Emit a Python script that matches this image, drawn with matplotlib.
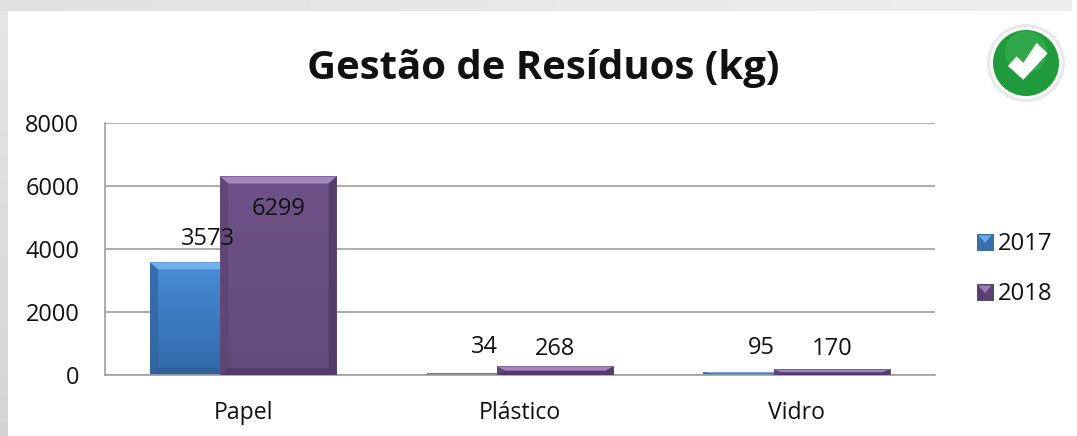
import matplotlib
matplotlib.use("Agg")
import matplotlib.pyplot as plt
import numpy as np
from matplotlib.patches import Polygon, Rectangle, Circle
from matplotlib.legend_handler import HandlerBase
from matplotlib.colors import LinearSegmentedColormap

categories = ["Papel", "Plástico", "Vidro"]
series_names = ["2017", "2018"]
values_2017 = [3573, 34, 95]
values_2018 = [6299, 268, 170]
y_ticks = [0, 2000, 4000, 6000, 8000]
title = "Gestão de Resíduos (kg)"

W, H = 1077, 436
plt.rcParams["font.family"] = ["Open Sans", "DejaVu Sans"]
fig = plt.figure(figsize=(W / 100, H / 100), dpi=100, facecolor="white")

# page background / frame, in pixel coordinates
bg = fig.add_axes([0, 0, 1, 1], zorder=0)
bg.axis("off")
bg.imshow(np.linspace(0.90, 0.83, 100)[:, None], extent=(0, 8, H, 0), cmap="gray", vmin=0, vmax=1, aspect="auto")
bg.imshow(np.linspace(0.88, 0.93, 100)[None, :], extent=(0, W - 5, 11, 0), cmap="gray", vmin=0, vmax=1, aspect="auto")
bg.set_xlim(0, W); bg.set_ylim(H, 0)

ax = fig.add_axes([105 / W, 1 - 375 / H, 830 / W, 252 / H], zorder=1)
ax.patch.set_alpha(0)
ax.set_yticks(y_ticks)
ax.set_xticks(range(4))
ax.set_xticklabels([])
ax.set_xticks([0.5, 1.5, 2.5], categories, minor=True)
ax.tick_params(axis="x", which="minor", length=0, pad=18.5, labelsize=16.6, labelcolor="#111111")
ax.tick_params(axis="x", which="major", length=0)
ax.tick_params(axis="y", length=0, pad=18.5, labelsize=17, labelcolor="#111111")
ax.grid(axis="y", color="#9e9e9e", lw=1.2, zorder=0)
ax.set_axisbelow(True)
for s in ["top", "right"]:
    ax.spines[s].set_visible(False)
for s in ["left", "bottom"]:
    ax.spines[s].set_color("#9e9e9e")
    ax.spines[s].set_linewidth(1.2)

bar_w = 0.42
offset = 0.127
px_x = 3 / 830
px_y = 8000 / 252


def bevel(x0, w, h, st, z):
    bx = min(8 * px_x, w / 2)
    by = min(7 * px_y, h / 2)
    x1 = x0 + w
    ax.add_patch(Polygon([(x0, h), (x1, h), (x1 - bx, h - by), (x0 + bx, h - by)], fc=st["top"], ec="none", zorder=z))
    ax.add_patch(Polygon([(x0, 0), (x0, h), (x0 + bx, h - by), (x0 + bx, by)], fc=st["left"], ec="none", alpha=0.75, zorder=z))
    ax.add_patch(Polygon([(x1, 0), (x1, h), (x1 - bx, h - by), (x1 - bx, by)], fc=st["right"], ec="none", alpha=0.75, zorder=z))
    ax.add_patch(Polygon([(x0, 0), (x1, 0), (x1 - bx, by), (x0 + bx, by)], fc=st["bottom"], ec="none", alpha=0.8, zorder=z))


styles = [
    dict(grad=("#2f69a8", "#4a8cd8"), top="#72b0ee", left="#33659f", right="#33659f", bottom="#2f5f96"),
    dict(grad=("#654b7d", "#6e5287"), top="#a386bd", left="#5c4472", right="#4d3962", bottom="#4f3a63"),
]
for i, vals in enumerate([values_2017, values_2018]):
    st = styles[i]
    z = 2 + i
    cmap = LinearSegmentedColormap.from_list("g", st["grad"])
    for c, v in enumerate(vals):
        x0 = c + 0.5 + (2 * i - 1) * offset - bar_w / 2
        ax.bar(x0, v, bar_w, align="edge", color=st["grad"][1], zorder=z, lw=0)
        ax.imshow(np.linspace(1, 0, 64)[:, None], extent=(x0, x0 + bar_w, 0, v), cmap=cmap,
                  aspect="auto", zorder=z, vmin=0, vmax=1)
        bevel(x0, bar_w, v, st, z)

ax.set_xlim(0, 3)
ax.set_ylim(0, 8000)

label_fs = 17
label_dy_2017 = [23, 27, 24]
label_dy_2018 = [-32, 18, 21]
for c, v in enumerate(values_2017):
    ax.annotate(str(v), (c + 0.5 - offset, v), xytext=(0, label_dy_2017[c]), textcoords="offset pixels",
                ha="center", va="center", fontsize=label_fs, color="#111111", zorder=6)
for c, v in enumerate(values_2018):
    ax.annotate(str(v), (c + 0.5 + offset, v), xytext=(0, label_dy_2018[c]), textcoords="offset pixels",
                ha="center", va="center", fontsize=label_fs, color="#111111", zorder=6)


class BevelHandler(HandlerBase):
    def create_artists(self, legend, orig, xd, yd, w, h, fs, trans):
        c = orig.get_facecolor()
        r = Rectangle((xd, yd), w, h, fc=c, ec=orig.get_edgecolor(), lw=0.6, transform=trans)
        t = Polygon([(xd + 1, yd + h - 1), (xd + w - 1, yd + h - 1), (xd + w / 2, yd + h * 0.45)],
                    fc=orig.get_gid(), ec="none", transform=trans)
        return [r, t]


h1 = Rectangle((0, 0), 1, 1, fc="#3a6fab", ec="#2f5f96", gid="#6aa9ea")
h2 = Rectangle((0, 0), 1, 1, fc="#5a4270", ec="#4a3660", gid="#9a7db5")
leg = fig.legend([h1, h2], series_names, loc="center left", bbox_to_anchor=(977 / W, 1 - 269 / H),
                 frameon=False, fontsize=17.2, handlelength=0.67, handleheight=0.67, handletextpad=0.22,
                 labelspacing=1.1, borderpad=0, borderaxespad=0, labelcolor="#111111",
                 handler_map={Rectangle: BevelHandler()})

fig.text(543 / W, 1 - 68 / H, title, ha="center", va="center", fontsize=28.9, fontweight="bold", color="#111111", zorder=5)

# check-mark badge, pixel coordinates
ic = fig.add_axes([0, 0, 1, 1], zorder=3)
ic.set_xlim(0, W); ic.set_ylim(H, 0); ic.axis("off")
ic.add_patch(Circle((1026, 63), 39, fc="#e9e9e9", ec="none"))
ic.add_patch(Circle((1026, 63), 36, fc="#f8f8f8", ec="none"))
ic.add_patch(Circle((1026, 63), 33, fc="#1f9a3c", ec="none"))
ic.add_patch(Circle((1026, 52), 21, fc="#3fb555", ec="none", alpha=0.55))
ic.add_patch(Polygon(np.array([(145, 198), (170, 170), (190, 190), (230, 130), (262, 160), (190, 238)]) / 3 + np.array([960, 0]),
                     fc="white", ec="#e8e8e8", lw=0.5))

fig.savefig("out.png", dpi=100)
